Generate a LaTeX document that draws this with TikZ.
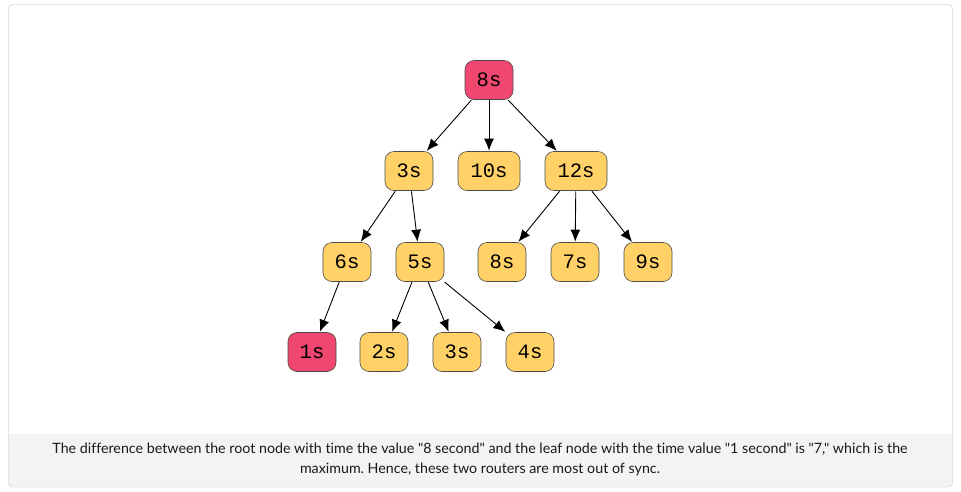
\documentclass[tikz,border=0pt]{standalone}
\usepackage{fontspec}
\setmainfont{Lato}[Ligatures={TeXOff,NoCommon}]
\newfontfamily\monof{Liberation Mono}
\usetikzlibrary{arrows.meta}
\definecolor{nred}{HTML}{EF476F}
\definecolor{nyel}{HTML}{FFD166}
\definecolor{capbg}{HTML}{F3F3F3}
\definecolor{frame}{HTML}{D4D4D4}
\frenchspacing
\tikzset{
  tnode/.style={draw=black!70, line width=0.6pt, rounded corners=9pt, minimum width=48pt, minimum height=39pt, inner sep=0pt, font=\monof\fontsize{20.5}{22}\selectfont},
  rednode/.style={tnode, fill=nred},
  yelnode/.style={tnode, fill=nyel},
  wide/.style={minimum width=62pt},
  edge/.style={-{Latex[length=12pt,width=10pt]}, line width=0.9pt, black, shorten <=0.5pt, shorten >=0.5pt},
}
\begin{document}
\begin{tikzpicture}[x=1pt,y=-1pt]
\useasboundingbox (0,0) rectangle (961,491);
\fill[white] (0,0) rectangle (961,491);
\draw[frame, fill=white, rounded corners=4pt] (8.5,4.5) rectangle (952.5,487);
\fill[capbg, rounded corners=4pt] (9,434) rectangle (952,486.5);
\fill[capbg] (9,434) rectangle (952,450);
\draw[frame, rounded corners=4pt] (8.5,4.5) rectangle (952.5,487);
\node[font=\fontsize{14.25}{20}\selectfont, text=black!90, align=center] (cap) at (480,459)
{The difference between the root node with time the value "8 second" and the leaf node with the time value "1 second" is "7," which is the\\maximum. Hence, these two routers are most out of sync.};

\node[rednode] (r) at (489,80) {8s};
\node[yelnode] (a) at (409,171) {3s};
\node[yelnode, wide] (b) at (489,171) {10s};
\node[yelnode, wide] (c) at (576,171) {12s};
\node[yelnode] (a1) at (347,262) {6s};
\node[yelnode] (a2) at (420,262) {5s};
\node[yelnode] (c1) at (502,262) {8s};
\node[yelnode] (c2) at (575,262) {7s};
\node[yelnode] (c3) at (648,262) {9s};
\node[rednode] (d1) at (312,352) {1s};
\node[yelnode] (e1) at (384,352) {2s};
\node[yelnode] (e2) at (457,352) {3s};
\node[yelnode] (e3) at (530,352) {4s};

\draw[edge] (r) -- (a);
\draw[edge] (r) -- (b);
\draw[edge] (r) -- (c);
\draw[edge] (a) -- (a1);
\draw[edge] (a) -- (a2);
\draw[edge] (c) -- (c1);
\draw[edge] (c) -- (c2);
\draw[edge] (c) -- (c3);
\draw[edge] (a1) -- (d1);
\draw[edge] (a2) -- (e1);
\draw[edge] (a2) -- (e2);
\draw[edge] (a2.south east) -- (e3.north west);
\end{tikzpicture}
\end{document}
